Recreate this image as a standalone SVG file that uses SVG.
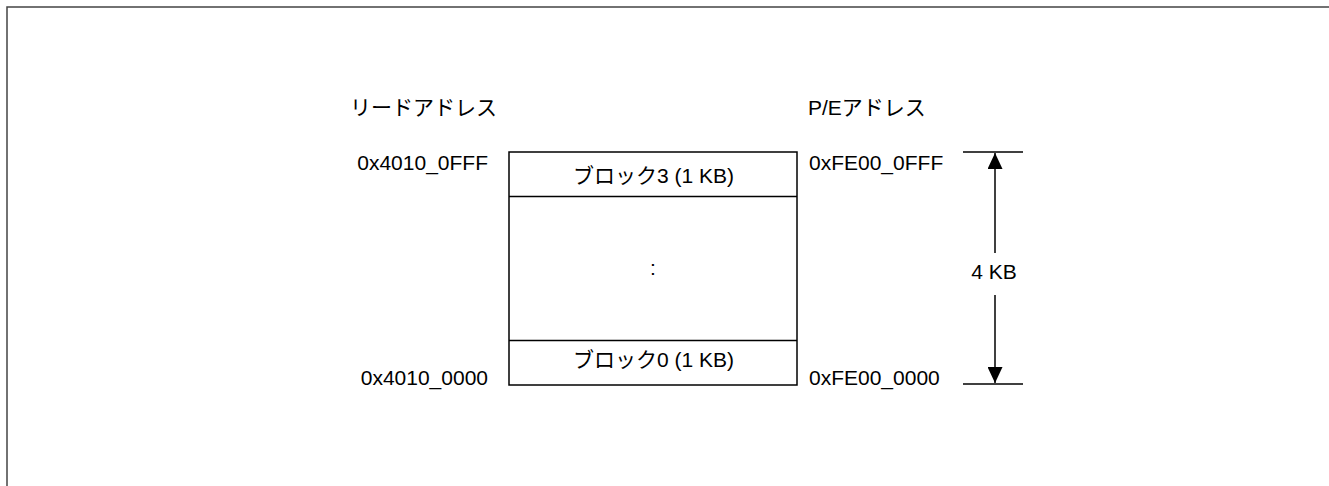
<svg xmlns="http://www.w3.org/2000/svg" width="1329" height="486" viewBox="0 0 1329 486">
<style>
text{font-family:"Liberation Sans","Noto Sans CJK JP",sans-serif;font-size:21px;fill:#000}
.ln{stroke:#000;stroke-width:1.5;fill:none}
.m{text-anchor:middle}
.r{text-anchor:end}
</style>
<defs>
<marker id="ah" viewBox="0 0 16 15" refX="16" refY="7.5" markerWidth="16" markerHeight="15" markerUnits="userSpaceOnUse" orient="auto"><path d="M0,0 L16,7.5 L0,15 Z" fill="#000"/></marker>
</defs>
<rect x="7" y="7" width="1340" height="500" fill="#fff" stroke="#444" stroke-width="1.5"/>
<g id="labels">
<text x="350" y="115">リードアドレス</text>
<text x="808" y="115">P/Eアドレス</text>
<text class="r" x="488" y="170">0x4010_0FFF</text>
<text class="r" x="488" y="385">0x4010_0000</text>
<text x="809" y="170">0xFE00_0FFF</text>
<text x="809" y="385">0xFE00_0000</text>
</g>
<g id="memory">
<rect class="ln" x="509" y="152" width="288" height="233"/>
<line class="ln" x1="509" y1="196.5" x2="797" y2="196.5"/>
<line class="ln" x1="509" y1="340.5" x2="797" y2="340.5"/>
</g>
<g id="block3"><text class="m" x="653.5" y="183">ブロック3 (1 KB)</text></g>
<g id="block0"><text class="m" x="653.5" y="367">ブロック0 (1 KB)</text></g>
<g id="dots"><text class="m" x="653" y="275">:</text></g>
<g id="connectors">
<line class="ln" x1="963" y1="152" x2="1023" y2="152"/>
<line class="ln" x1="963" y1="384" x2="1023" y2="384"/>
<line class="ln" x1="995" y1="253" x2="995" y2="153" marker-end="url(#ah)"/>
<line class="ln" x1="995" y1="295" x2="995" y2="383" marker-end="url(#ah)"/>
</g>
<g id="size"><text class="m" x="994" y="279">4 KB</text></g>
</svg>
